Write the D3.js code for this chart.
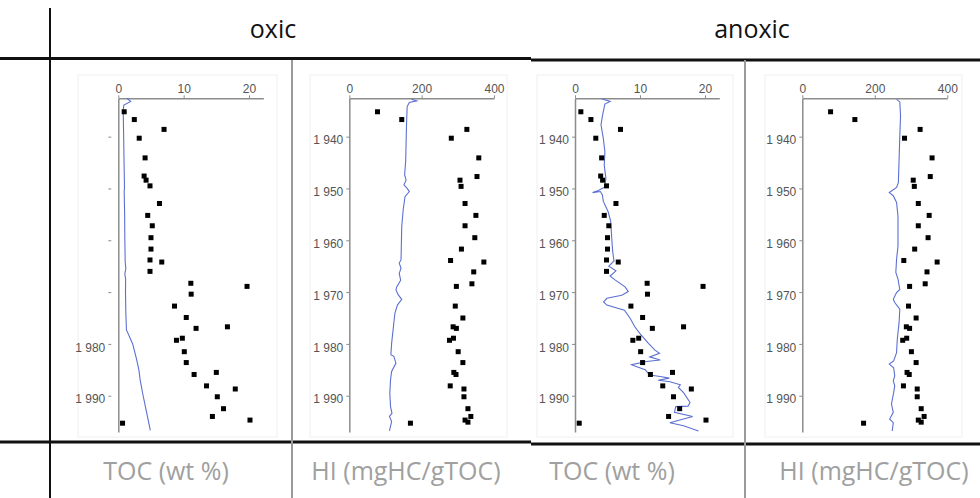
<!DOCTYPE html>
<html>
<head>
<meta charset="utf-8">
<script src="https://cdn.jsdelivr.net/npm/d3@7"></script>
<style>
  body { margin: 0; background: #fff; }
  svg { display: block; }
</style>
</head>
<body>
<div id="chart"></div>
<script>
// tick values / labels
const yearTicks = [1940, 1950, 1960, 1970, 1980, 1990];
const yearLabels = ["1 940", "1 950", "1 960", "1 970", "1 980", "1 990"];
// first panel had its upper labels cut away
const yearLabelsCut = ["", "", "", "", "1 980", "1 990"];
const tocTicks = [0, 10, 20];
const hiTicks = [0, 200, 400];

// TOC samples (same dots in oxic and anoxic panels)
const tocYears = [1935.2, 1936.7, 1938.6, 1940.3, 1944.1, 1947.6, 1948.4, 1949.5, 1952.9, 1955.2,
  1957.2, 1959.5, 1961.7, 1963.8, 1964.2, 1966.0, 1968.3, 1968.9, 1970.4, 1972.7,
  1974.9, 1976.7, 1977.0, 1978.9, 1979.3, 1981.5, 1983.6, 1985.5, 1985.9, 1988.1,
  1988.7, 1990.2, 1992.5, 1994.0, 1994.7, 1995.3];
const tocValues = [0.9, 2.45, 7.0, 3.2, 4.1, 3.95, 4.25, 4.85, 6.3, 4.5,
  5.2, 5.0, 5.0, 4.85, 6.65, 4.85, 11.1, 19.7, 11.15, 8.6,
  10.4, 16.7, 11.9, 9.8, 8.9, 10.1, 10.4, 15.0, 11.6, 13.5,
  17.9, 15.15, 16.1, 14.4, 20.15, 0.65];

// HI samples
const hiYears = [1935.2, 1936.7, 1938.6, 1940.3, 1944.1, 1947.7, 1948.4, 1949.6, 1952.9, 1955.2,
  1957.2, 1959.5, 1961.7, 1963.9, 1964.2, 1966.1, 1968.4, 1968.9, 1972.7, 1975.0,
  1976.7, 1977.0, 1978.9, 1979.3, 1981.5, 1983.6, 1985.5, 1985.9, 1988.1, 1988.7,
  1990.2, 1992.5, 1994.0, 1994.7, 1995.1, 1995.3];
const hiValues = [78, 145, 325, 282, 358, 353, 306, 309, 320, 350,
  320, 347, 310, 280, 372, 344, 339, 296, 293, 314,
  287, 296, 288, 277, 301, 314, 289, 295, 279, 317,
  317, 328, 336, 320, 328, 169];

// model curves (blue lines)
const oxicTocYears = [1932.6, 1933.2, 1933.9, 1934.9, 1940, 1945, 1950, 1950.5, 1955, 1960,
  1964, 1965.5, 1966.5, 1967.5, 1970, 1974, 1977.3, 1980, 1983, 1985,
  1987, 1990, 1993, 1996.7];
const oxicTocValues = [1.3, 1.9, 0.85, 0.75, 0.82, 0.88, 0.95, 0.9, 0.97, 1.0,
  1.05, 1.15, 1.0, 1.12, 1.1, 1.15, 1.25, 2.2, 2.8, 3.15,
  3.35, 3.8, 4.3, 4.9];

const oxicHiYears = [1932.8, 1933.1, 1933.4, 1934.2, 1938.1, 1944.5, 1947.4, 1948.4, 1949.3, 1950.0,
  1950.6, 1951.6, 1954.1, 1957.4, 1963.8, 1964.4, 1965.4, 1966.4, 1967.7, 1969.0,
  1969.6, 1970.5, 1971.4, 1972.5, 1974.1, 1976.7, 1979.9, 1982.1, 1982.4, 1983.7,
  1985.3, 1986.9, 1989.5, 1992.1, 1993.4, 1994.0, 1995.0, 1996.8];
const oxicHiValues = [172, 186, 166, 160, 158, 156, 153, 157, 151, 160,
  166, 154, 149, 145, 143, 138, 143, 138, 142, 131,
  129, 135, 145, 133, 126, 122, 117, 115, 123, 129,
  117, 114, 112, 114, 118, 111, 117, 111];

const anoxicTocYears = [1932.7, 1933.2, 1933.7, 1935.8, 1937.7, 1940.3, 1942.9, 1945.5, 1948.0, 1949.7,
  1950.4, 1950.8, 1950.6, 1951.2, 1952.5, 1954.5, 1956.4, 1959.6, 1962.2, 1964.0,
  1965.0, 1965.9, 1966.9, 1967.6, 1969.0, 1969.9, 1970.6, 1971.2, 1971.9, 1972.5,
  1973.5, 1975.1, 1976.7, 1978.0, 1979.9, 1981.2, 1981.8, 1982.5, 1983.1, 1983.4,
  1984.0, 1984.4, 1985.0, 1986.0, 1986.3, 1986.6, 1987.0, 1987.3, 1987.9, 1988.4,
  1989.4, 1991.3, 1992.0, 1992.1, 1993.2, 1994.0, 1995.2, 1995.8, 1996.8];
const anoxicTocValues = [4.1, 5.4, 4.6, 4.25, 4.0, 4.35, 4.6, 4.5, 4.75, 4.6,
  3.6, 2.7, 3.9, 4.2, 4.36, 5.1, 5.5, 5.65, 5.8, 6.0,
  5.2, 6.3, 5.4, 6.1, 7.7, 8.2, 7.2, 4.9, 4.4, 4.9,
  7.6, 8.5, 9.2, 10.0, 11.3, 12.3, 13.0, 11.5, 13.1, 11.0,
  8.7, 9.5, 10.8, 11.5, 13.1, 14.5, 12.8, 14.6, 16.2, 15.9,
  16.7, 17.7, 17.4, 15.5, 15.3, 18.1, 14.6, 16.7, 19.0];

const anoxicHiYears = [1932.8, 1933.3, 1936.0, 1939.9, 1944.4, 1948.9, 1949.8, 1950.5, 1950.8, 1951.4,
  1952.7, 1955.3, 1961.1, 1963.7, 1966.2, 1967.5, 1969.5, 1970.1, 1971.4, 1972.0,
  1973.3, 1975.9, 1979.1, 1981.7, 1983.3, 1983.9, 1984.6, 1986.2, 1987.1, 1988.1,
  1989.4, 1991.6, 1993.2, 1994.5, 1995.2, 1996.8];
const anoxicHiValues = [260, 269, 271, 269, 267, 265, 260, 246, 240, 251,
  260, 264, 264, 260, 258, 264, 269, 260, 251, 255,
  269, 267, 262, 260, 252, 240, 252, 255, 251, 255,
  252, 246, 251, 241, 251, 248];

const svgWidth = 980;
const svgHeight = 498;

let svg = d3.select("#chart")
  .append("svg")
  .attr("width", svgWidth)
  .attr("height", svgHeight);

// table frame
let frame = svg.append("g");
frame.append("line").attr("x1", 50).attr("x2", 50).attr("y1", 8).attr("y2", 498)
  .attr("stroke", "#111").attr("stroke-width", 2);
frame.append("line").attr("x1", 0).attr("x2", 531).attr("y1", 58.5).attr("y2", 58.5)
  .attr("stroke", "#111").attr("stroke-width", 3);
frame.append("line").attr("x1", 531).attr("x2", 980).attr("y1", 60).attr("y2", 60)
  .attr("stroke", "#111").attr("stroke-width", 3);
frame.append("line").attr("x1", 0).attr("x2", 531).attr("y1", 442).attr("y2", 442)
  .attr("stroke", "#111").attr("stroke-width", 3);
frame.append("line").attr("x1", 531).attr("x2", 980).attr("y1", 444).attr("y2", 444)
  .attr("stroke", "#111").attr("stroke-width", 3);
[292, 745].forEach(x => {
  frame.append("line").attr("x1", x).attr("x2", x).attr("y1", 60).attr("y2", 498)
    .attr("stroke", "#9a9a9a").attr("stroke-width", 2);
});

// headers
svg.append("text").attr("x", 273).attr("y", 38).attr("text-anchor", "middle")
  .attr("font-family", "Open Sans").attr("font-size", 25).attr("fill", "#111").text("oxic");
svg.append("text").attr("x", 752).attr("y", 38).attr("text-anchor", "middle")
  .attr("font-family", "Open Sans").attr("font-size", 25).attr("fill", "#111").text("anoxic");

// footer labels
let footers = [
  { x: 166, text: "TOC (wt %)" },
  { x: 406, text: "HI (mgHC/gTOC)" },
  { x: 612, text: "TOC (wt %)" },
  { x: 874, text: "HI (mgHC/gTOC)" }
];
footers.forEach(f => {
  svg.append("text").attr("x", f.x).attr("y", 480).attr("text-anchor", "middle")
    .attr("font-family", "Open Sans").attr("font-size", 25).attr("fill", "#a0a0a0")
    .text(f.text);
});

// year scale shared by all panels
const plotTop = 98.3;
const plotBottom = 432;
let yScale = d3.scaleLinear().domain([1932.6, 1997]).range([plotTop, plotBottom]);

let panels = [
  { x0: 118.3, box: [78, 277], domain: [0, 22.2], pxPer: 6.535, ticks: tocTicks, labels: yearLabelsCut, shift: -7,
    dotYears: tocYears, dotValues: tocValues, lineYears: oxicTocYears, lineValues: oxicTocValues },
  { x0: 349.3, box: [310, 507], domain: [0, 400], pxPer: 0.3617, ticks: hiTicks, labels: yearLabels, shift: 0,
    dotYears: hiYears, dotValues: hiValues, lineYears: oxicHiYears, lineValues: oxicHiValues },
  { x0: 575, box: [537, 733], domain: [0, 22.2], pxPer: 6.5, ticks: tocTicks, labels: yearLabels, shift: 0,
    dotYears: tocYears, dotValues: tocValues, lineYears: anoxicTocYears, lineValues: anoxicTocValues },
  { x0: 802.3, box: [765, 962], domain: [0, 400], pxPer: 0.3625, ticks: hiTicks, labels: yearLabels, shift: 0,
    dotYears: hiYears, dotValues: hiValues, lineYears: anoxicHiYears, lineValues: anoxicHiValues }
];

panels.forEach(p => {
  let g = svg.append("g");

  // faint plot border
  g.append("rect")
    .attr("x", p.box[0]).attr("y", 75)
    .attr("width", p.box[1] - p.box[0]).attr("height", 362)
    .attr("fill", "none").attr("stroke", "#f0f0f0");

  let xScale = d3.scaleLinear()
    .domain(p.domain)
    .range([p.x0, p.x0 + (p.domain[1] - p.domain[0]) * p.pxPer]);

  // x axis on top
  let xAxis = g.append("g")
    .attr("transform", `translate(0, ${plotTop})`)
    .call(d3.axisTop(xScale).tickValues(p.ticks).tickSize(3).tickSizeOuter(0).tickPadding(2));

  // y axis
  let yAxis = g.append("g")
    .attr("transform", `translate(${p.x0}, 0)`)
    .call(d3.axisLeft(yScale).tickValues(yearTicks)
      .tickFormat((d, i) => p.labels[i])
      .tickSize(3).tickSizeOuter(0).tickPadding(3));

  yAxis.selectAll(".tick line, .tick text").attr("transform", `translate(${p.shift}, 0)`);
  yAxis.selectAll(".tick text").attr("dy", "0.6em");

  [xAxis, yAxis].forEach(a => {
    a.select(".domain").attr("stroke", "#8c8c8c").attr("stroke-width", 1.5);
    a.selectAll(".tick line").attr("stroke", "#8c8c8c");
    a.selectAll(".tick text")
      .attr("fill", "#555")
      .attr("font-family", "Liberation Sans, Arial, sans-serif")
      .attr("font-size", 12);
  });

  // blue curve
  let linePts = p.lineYears.map((y, i) => [p.lineValues[i], y]);
  g.append("path")
    .datum(linePts)
    .attr("fill", "none")
    .attr("stroke", "#5c70d2")
    .attr("stroke-width", 1.1)
    .attr("d", d3.line().x(d => xScale(d[0])).y(d => yScale(d[1])));

  // black square samples
  let dots = p.dotYears.map((y, i) => [p.dotValues[i], y]);
  g.selectAll("rect.dot")
    .data(dots)
    .enter()
    .append("rect")
    .attr("class", "dot")
    .attr("x", d => xScale(d[0]) - 2.5)
    .attr("y", d => yScale(d[1]) - 2.5)
    .attr("width", 5)
    .attr("height", 5)
    .attr("fill", "#000");
});
</script>
</body>
</html>
